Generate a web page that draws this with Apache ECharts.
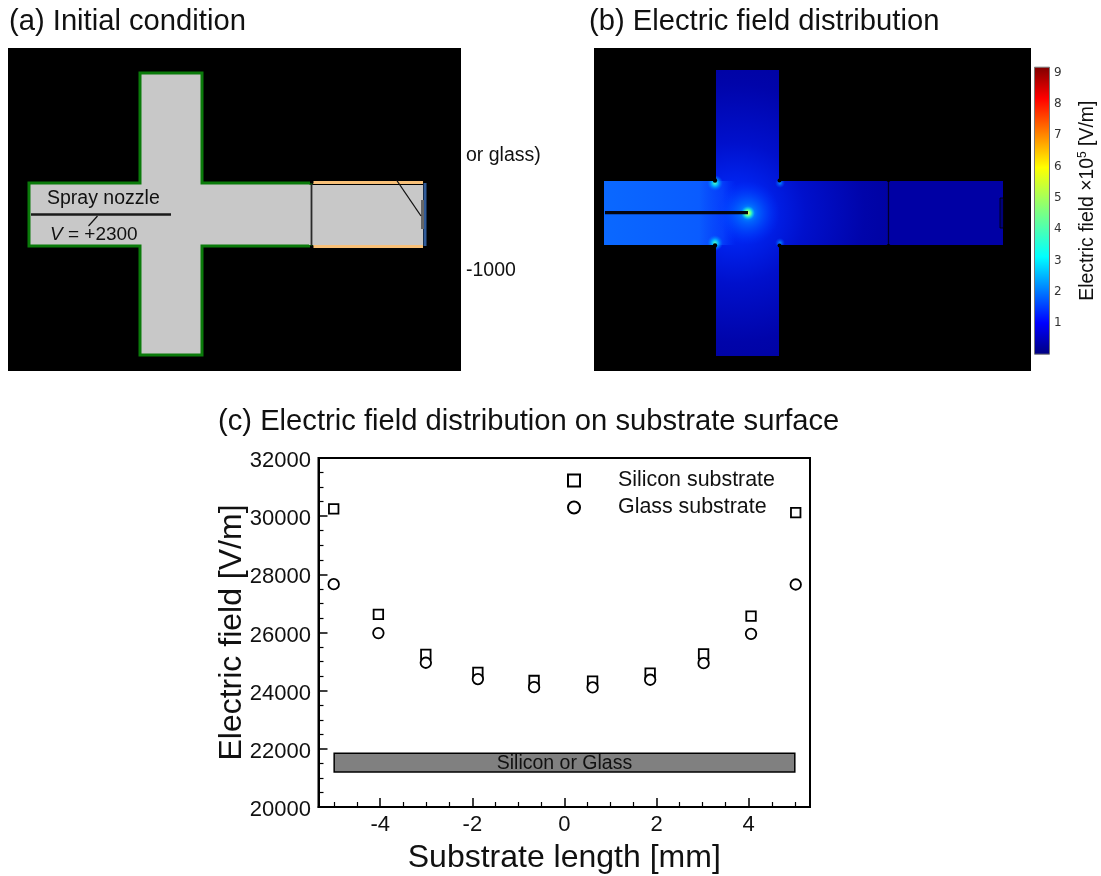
<!DOCTYPE html>
<html><head><meta charset="utf-8">
<style>html,body{margin:0;padding:0;background:#fff}#c{width:1101px;height:876px}</style>
<script src="https://cdn.jsdelivr.net/npm/echarts@6/dist/echarts.min.js"></script>
</head><body><div id="c"></div>
<script>
const FONT = '"Liberation Sans", Arial, sans-serif';

// (c) data
const siliconX = [-5.01,-4.04,-3.01,-1.88,-0.66,0.61,1.86,3.02,4.05,5.02];
const siliconY = [30250,26620,25245,24630,24350,24330,24605,25265,26565,30125];
const glassX   = [-5.01,-4.04,-3.01,-1.88,-0.66,0.61,1.86,3.02,4.05,5.02];
const glassY   = [27660,25980,24960,24400,24120,24110,24375,24945,25955,27650];
const xMajorTicks = [-4,-2,0,2,4];
const xMinorTicks = [-5,-4.5,-3.5,-3,-2.5,-1.5,-1,-0.5,0.5,1,1.5,2.5,3,3.5,4.5,5];
const substrateBand = {x0:-5, x1:5, y0:21200, y1:21850, label:'Silicon or Glass'};
const seriesNames = ['Silicon substrate','Glass substrate'];

// (b) colour bar
const colorbarTicks = [1,2,3,4,5,6,7,8,9];
const colorbarMax = [9.19];
const jetStops = [[0,'#00007f'],[0.11,'#0000ff'],[0.34,'#00ffff'],[0.5,'#7fff7f'],[0.65,'#ffff00'],[0.89,'#ff0000'],[1,'#7f0000']];

// panel geometry: cross-shaped chamber outlines
const crossA = [[140,73],[202,73],[202,183],[311,183],[311,246],[202,246],[202,355],[140,355],[140,246],[29,246],[29,183],[140,183]];
const crossB = [[716,70],[779,70],[779,181],[1003,181],[1003,245],[779,245],[779,356],[716,356],[716,245],[604,245],[604,181],[716,181]];

function poly(points, style, z){ return {type:'polygon', shape:{points}, style, z:z||1, silent:true}; }
function rect(x,y,width,height,fill,z,extra){ return {type:'rect', shape:{x,y,width,height}, style:Object.assign({fill},extra||{}), z:z||1, silent:true}; }
function seg(x1,y1,x2,y2,stroke,lineWidth,z){ return {type:'line', shape:{x1,y1,x2,y2}, style:{stroke,lineWidth}, z:z||3, silent:true}; }
function txt(x,y,text,size,extra){ return {type:'text', x, y, style:Object.assign({text,fill:'#111',font:size+'px '+FONT,textVerticalAlign:'middle'},extra||{}), z:5, silent:true}; }
function glow(cx,cy,r,stops){
  return {type:'circle', shape:{cx,cy,r}, silent:true, z:3,
    style:{fill:{type:'radial',x:cx,y:cy,r,global:true,colorStops:stops.map(s=>({offset:s[0],color:s[1]}))}}};
}

const panelA = [
  rect(8,48,453,323,'#000',0),
  poly(crossA,{fill:'#c8c8c8',stroke:'#0a7a0a',lineWidth:3},1),
  rect(309,185,114,60,'#c8c8c8',1),
  rect(313,181,110,3,'#f8c078',2),
  rect(313,245,110,3,'#f8c078',2),
  rect(310,181,3.5,2.5,'#000',2),
  rect(310,245.5,3.5,2.5,'#000',2),
  rect(423.5,183,3,63,'#2f5a98',2),
  rect(421,200,3,29,'#666',2),
  seg(311.5,184,311.5,245,'#2a2a2a',1.8),
  seg(31,214.5,171,214.5,'#1a1a1a',2.6),
  seg(97.5,216,88.5,226,'#111',1.2),
  seg(396.5,180,421,216,'#111',1.3),
  txt(47,199,'Spray nozzle',19.5),
  {type:'text', x:50, y:235, z:5, silent:true,
    style:{text:'{i|V} = +2300', textVerticalAlign:'middle', fill:'#111', font:'19px '+FONT,
      rich:{i:{fontStyle:'italic',fontSize:19,fontFamily:'Liberation Sans',fill:'#111'}}}},
  txt(466,156,'or glass)',19.5),
  txt(466,271,'-1000',19.5)
];

const panelB = [
  rect(594,48,437,323,'#000',0),
  rect(1028,65,6,295,'#fff',0.5),
  poly(crossB,{fill:{type:'radial',x:735,y:213,r:235,global:true,colorStops:[
    {offset:0,color:'#0038ff'},{offset:0.12,color:'#0024f0'},{offset:0.3,color:'#0010cc'},
    {offset:0.55,color:'#0004aa'},{offset:0.8,color:'#00009a'},{offset:1,color:'#000090'}]}},1),
  {type:'rect', shape:{x:604,y:181,width:132,height:64}, silent:true, z:2,
    style:{fill:{type:'linear',x:604,y:0,x2:736,y2:0,global:true,colorStops:[
      {offset:0,color:'#0a68ff'},{offset:0.72,color:'#0a5cff'},{offset:0.9,color:'rgba(8,72,255,0.7)'},{offset:1,color:'rgba(0,56,255,0)'}]}}},
  {type:'rect', shape:{x:889,y:181,width:114,height:64}, silent:true, z:2, style:{fill:'#0000a4'}},
  glow(748,213,32,[[0,'rgba(0,180,255,0.95)'],[0.3,'rgba(0,110,255,0.8)'],[1,'rgba(0,50,255,0)']]),
  glow(748,213,7,[[0,'#ffff50'],[0.45,'#40ffb0'],[1,'rgba(0,200,255,0)']]),
  glow(715,183,8,[[0,'#50ffc0'],[0.4,'#00b0ff'],[1,'rgba(0,100,255,0)']]),
  glow(715,243,8,[[0,'#50ffc0'],[0.4,'#00b0ff'],[1,'rgba(0,100,255,0)']]),
  glow(780,183,5,[[0,'#0090ff'],[1,'rgba(0,80,255,0)']]),
  glow(780,243,5,[[0,'#0090ff'],[1,'rgba(0,80,255,0)']]),
  // black masks keep the corner glows inside the chamber
  rect(700,166,16,15,'#000',4),
  rect(700,245,16,15,'#000',4),
  rect(779,166,14,15,'#000',4),
  rect(779,245,14,15,'#000',4),
  seg(605,212.7,748,212.7,'#05050f',3.2,4),
  {type:'circle', shape:{cx:715,cy:180.5,r:2.2}, style:{fill:'#000'}, z:4, silent:true},
  {type:'circle', shape:{cx:715,cy:245.5,r:2.2}, style:{fill:'#000'}, z:4, silent:true},
  {type:'circle', shape:{cx:779.5,cy:180.5,r:2}, style:{fill:'#000'}, z:4, silent:true},
  {type:'circle', shape:{cx:779.5,cy:245.5,r:2}, style:{fill:'#000'}, z:4, silent:true},
  seg(888.5,181,888.5,245,'#00002a',1.3,4),
  {type:'circle', shape:{cx:888.5,cy:180,r:2}, style:{fill:'#000'}, z:4, silent:true},
  {type:'circle', shape:{cx:888.5,cy:246,r:2}, style:{fill:'#000'}, z:4, silent:true},
  rect(1000,198,3.5,30,'#000078',4,{stroke:'#000',lineWidth:0.8})
];

const chart = echarts.init(document.getElementById('c'), null, {renderer:'canvas'});
chart.setOption({
  animation:false,
  backgroundColor:'#fff',
  title:[
    {text:'(a) Initial condition', left:4, top:2, textStyle:{fontFamily:FONT,fontSize:29.2,fontWeight:'normal',color:'#111'}},
    {text:'(b) Electric field distribution', left:584, top:2, textStyle:{fontFamily:FONT,fontSize:29.2,fontWeight:'normal',color:'#111'}},
    {text:'(c) Electric field distribution on substrate surface', left:213, top:402, textStyle:{fontFamily:FONT,fontSize:29.2,fontWeight:'normal',color:'#111'}}
  ],
  graphic:{elements:panelA.concat(panelB)},
  grid:[
    {left:318.5, top:458, width:491.5, height:349, show:true, borderColor:'#000', borderWidth:2, backgroundColor:'transparent', containLabel:false, outerBoundsMode:'none'},
    {left:1034, top:66.7, width:16, height:288, show:false, containLabel:false, outerBoundsMode:'none'}
  ],
  legend:{
    data:seriesNames, orient:'vertical', left:562, top:465, itemWidth:12, itemHeight:12, itemGap:6,
    textStyle:{fontFamily:FONT,fontSize:21.4,color:'#111',padding:[0,0,0,33]}
  },
  xAxis:[
    {type:'value', gridIndex:0, min:-5.34, max:5.33,
      splitLine:{show:false},
      axisLine:{show:true,onZero:false,lineStyle:{color:'#000',width:2}},
      axisTick:{show:true,inside:true,length:9,customValues:xMajorTicks,lineStyle:{color:'#000',width:1.5}},
      axisLabel:{show:true,customValues:xMajorTicks,fontFamily:FONT,fontSize:22,color:'#111',margin:7},
      name:'Substrate length [mm]', nameLocation:'middle', nameGap:35, nameMoveOverlap:false,
      nameTextStyle:{fontFamily:FONT,fontSize:32,color:'#111',verticalAlign:'top'}},
    {type:'value', gridIndex:0, min:-5.34, max:5.33, position:'bottom',
      splitLine:{show:false}, axisLine:{show:false,onZero:false},
      axisTick:{show:true,inside:true,length:5,customValues:xMinorTicks,lineStyle:{color:'#000',width:1.2}},
      axisLabel:{show:false}},
    {type:'category', gridIndex:1, data:[''], axisLine:{show:false}, axisTick:{show:false}, axisLabel:{show:false}, splitLine:{show:false}}
  ],
  yAxis:[
    {type:'value', gridIndex:0, min:20000, max:32000, interval:2000,
      splitLine:{show:false},
      axisLine:{show:true,onZero:false,lineStyle:{color:'#000',width:2}},
      axisTick:{show:true,inside:true,length:9,lineStyle:{color:'#000',width:1.5}},
      minorTick:{show:true,splitNumber:4,length:5,lineStyle:{color:'#000',width:1.2}},
      axisLabel:{fontFamily:FONT,fontSize:22,color:'#111',margin:7.5,verticalAlign:'top',lineHeight:6,formatter:v=>String(v)},
      name:'Electric field [V/m]', nameLocation:'middle', nameGap:70, nameMoveOverlap:false,
      nameTextStyle:{fontFamily:FONT,fontSize:32,color:'#111'}},
    {type:'value', gridIndex:1, position:'right', min:0, max:colorbarMax[0],
      splitLine:{show:false},
      axisLine:{show:false,onZero:false},
      axisTick:{show:true,inside:true,length:3,customValues:colorbarTicks,lineStyle:{color:'#333',width:1}},
      axisLabel:{show:true,customValues:colorbarTicks,fontFamily:'"DejaVu Sans"',fontSize:12,color:'#333',margin:4},
      name:'{t|Electric field \u00d710}{s|5}{t| [V/m]}', nameLocation:'middle', nameGap:27, nameRotate:90, nameMoveOverlap:false,
      nameTextStyle:{padding:[0,0,0,20],rich:{t:{fontFamily:FONT,fontSize:19.4,color:'#111'},s:{fontFamily:FONT,fontSize:12,color:'#111',verticalAlign:'top',lineHeight:22}}}}
  ],
  series:[
    {name:seriesNames[0], type:'scatter', xAxisIndex:0, yAxisIndex:0, symbol:'rect', symbolSize:9.5,
      data:siliconX.map((x,i)=>[x,siliconY[i]]),
      itemStyle:{color:'#fff',borderColor:'#000',borderWidth:1.8,opacity:1}, silent:true, z:3,
      markArea:{silent:true, itemStyle:{color:'#808080',borderColor:'#000',borderWidth:1.5},
        label:{show:true,position:'inside',formatter:substrateBand.label,fontFamily:FONT,fontSize:19.5,color:'#111',offset:[0,1]},
        data:[[{xAxis:substrateBand.x0,yAxis:substrateBand.y0},{xAxis:substrateBand.x1,yAxis:substrateBand.y1}]]}},
    {name:seriesNames[1], type:'scatter', xAxisIndex:0, yAxisIndex:0, symbol:'circle', symbolSize:10.5,
      data:glassX.map((x,i)=>[x,glassY[i]]),
      itemStyle:{color:'#fff',borderColor:'#000',borderWidth:1.8,opacity:1}, silent:true, z:4},
    {type:'bar', name:'colorbar', xAxisIndex:2, yAxisIndex:1, data:colorbarMax, barWidth:'100%', silent:true,
      itemStyle:{borderColor:'#777',borderWidth:1,
        color:new echarts.graphic.LinearGradient(0,1,0,0,jetStops.map(s=>({offset:s[0],color:s[1]})))}}
  ]
});
</script></body></html>
